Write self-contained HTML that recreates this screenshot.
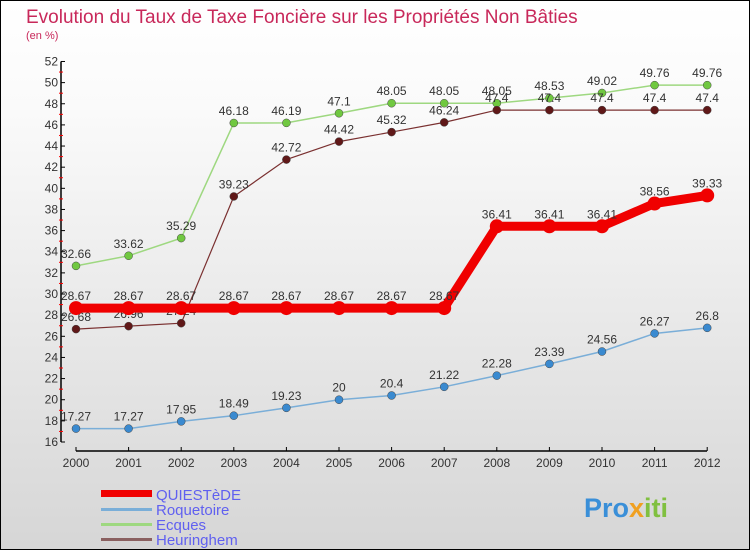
<!DOCTYPE html>
<html><head><meta charset="utf-8"><style>
body{margin:0;}
#wrap{position:relative;width:748px;height:548px;border:1px solid #000;background:linear-gradient(#fff,#fafafa 20%,#d6d6d6);overflow:hidden;font-family:"Liberation Sans",sans-serif;}
</style></head><body>
<div id="wrap">
<svg id="chart" width="748" height="548">
<text x="25" y="22" font-size="19" fill="#c8285a">Evolution du Taux de Taxe Foncière sur les Propriétés Non Bâties</text>
<text x="25" y="38" font-size="11" fill="#c8285a">(en %)</text>
<g id="axes"></g><g id="series"></g>
<g>
<rect x="100" y="489" width="51" height="7" fill="#f00000"/>
<text x="155" y="499" font-size="15" fill="#6060f0">QUIESTèDE</text>
<rect x="100" y="507" width="51" height="3" fill="#7aaed8"/>
<text x="155" y="514" font-size="15" fill="#6060f0">Roquetoire</text>
<rect x="100" y="522" width="51" height="3" fill="#9ed880"/>
<text x="155" y="529" font-size="15" fill="#6060f0">Ecques</text>
<rect x="100" y="537" width="51" height="3" fill="#8a6060"/>
<text x="155" y="544" font-size="15" fill="#6060f0">Heuringhem</text>
</g>
<text x="583" y="516" font-size="27" font-weight="bold" fill="#3a8fd8">Pro<tspan fill="#f0a020">x</tspan><tspan fill="#80c040">iti</tspan></text>
</svg>
</div>
<script>
const years=["2000","2001","2002","2003","2004","2005","2006","2007","2008","2009","2010","2011","2012"];
const quiestede=[28.67,28.67,28.67,28.67,28.67,28.67,28.67,28.67,36.41,36.41,36.41,38.56,39.33];
const roquetoire=[17.27,17.27,17.95,18.49,19.23,20,20.4,21.22,22.28,23.39,24.56,26.27,26.8];
const ecques=[32.66,33.62,35.29,46.18,46.19,47.1,48.05,48.05,48.05,48.53,49.02,49.76,49.76];
const heuringhem=[26.68,26.96,27.24,39.23,42.72,44.42,45.32,46.24,47.4,47.4,47.4,47.4,47.4];
const yTicks=[16,18,20,22,24,26,28,30,32,34,36,38,40,42,44,46,48,50,52];
const NS="http://www.w3.org/2000/svg";
function x(i){return 75+i*52.6;}
function y(v){return 441-(v-16)*10.57;}
function mk(t,a,p){const e=document.createElementNS(NS,t);for(const k in a)e.setAttribute(k,a[k]);p.appendChild(e);return e;}
const ax=document.getElementById('axes');
let l=mk('line',{x1:60,y1:y(52),x2:60,y2:y(16),stroke:'#000','stroke-width':1.5},ax);


l=mk('line',{x1:75,y1:450,x2:706,y2:450,stroke:'#000','stroke-width':1.5},ax);


yTicks.forEach(v=>{
 mk('line',{x1:60,y1:y(v),x2:64,y2:y(v),stroke:'#000'},ax);
 if(v<52)mk('line',{x1:58,y1:y(v+1),x2:62,y2:y(v+1),stroke:'#f00'},ax);
 const t=mk('text',{x:57,y:y(v)+4,'font-size':12,'text-anchor':'end',fill:'#333'},ax);t.textContent=v;
 
 
});
years.forEach((yr,i)=>{
 mk('line',{x1:x(i),y1:446,x2:x(i),y2:450,stroke:'#000'},ax);
 const t=mk('text',{x:x(i),y:466,'font-size':12,'text-anchor':'middle',fill:'#333'},ax);t.textContent=yr;
 
 
});
const sg=document.getElementById('series');
function draw(name,vals,col,dot,w,r){
 const g=mk('g',{},sg);
 
 
 const p=mk('polyline',{points:vals.map((v,i)=>x(i)+','+y(v)).join(' '),fill:'none',stroke:col,'stroke-width':w},g);
 
 
 vals.forEach((v,i)=>{
  const c=mk('circle',{cx:x(i),cy:y(v),r:r,fill:dot,stroke:w>3?'none':'#444','stroke-width':0.5},g);
  
  
  const t=mk('text',{x:x(i),y:y(v)-8,'font-size':12,'text-anchor':'middle',fill:'#333'},g);t.textContent=v;
  
  
 });
}
draw('roquetoire',roquetoire,'#7aaed8','#3a8ad0',1.5,4);
draw('ecques',ecques,'#9ed880','#70c840',1.5,4);
draw('heuringhem',heuringhem,'#7a3030','#601818',1.2,4);
draw('quiestede',quiestede,'#f00000','#f00000',9,7);
</script>
</body></html>
